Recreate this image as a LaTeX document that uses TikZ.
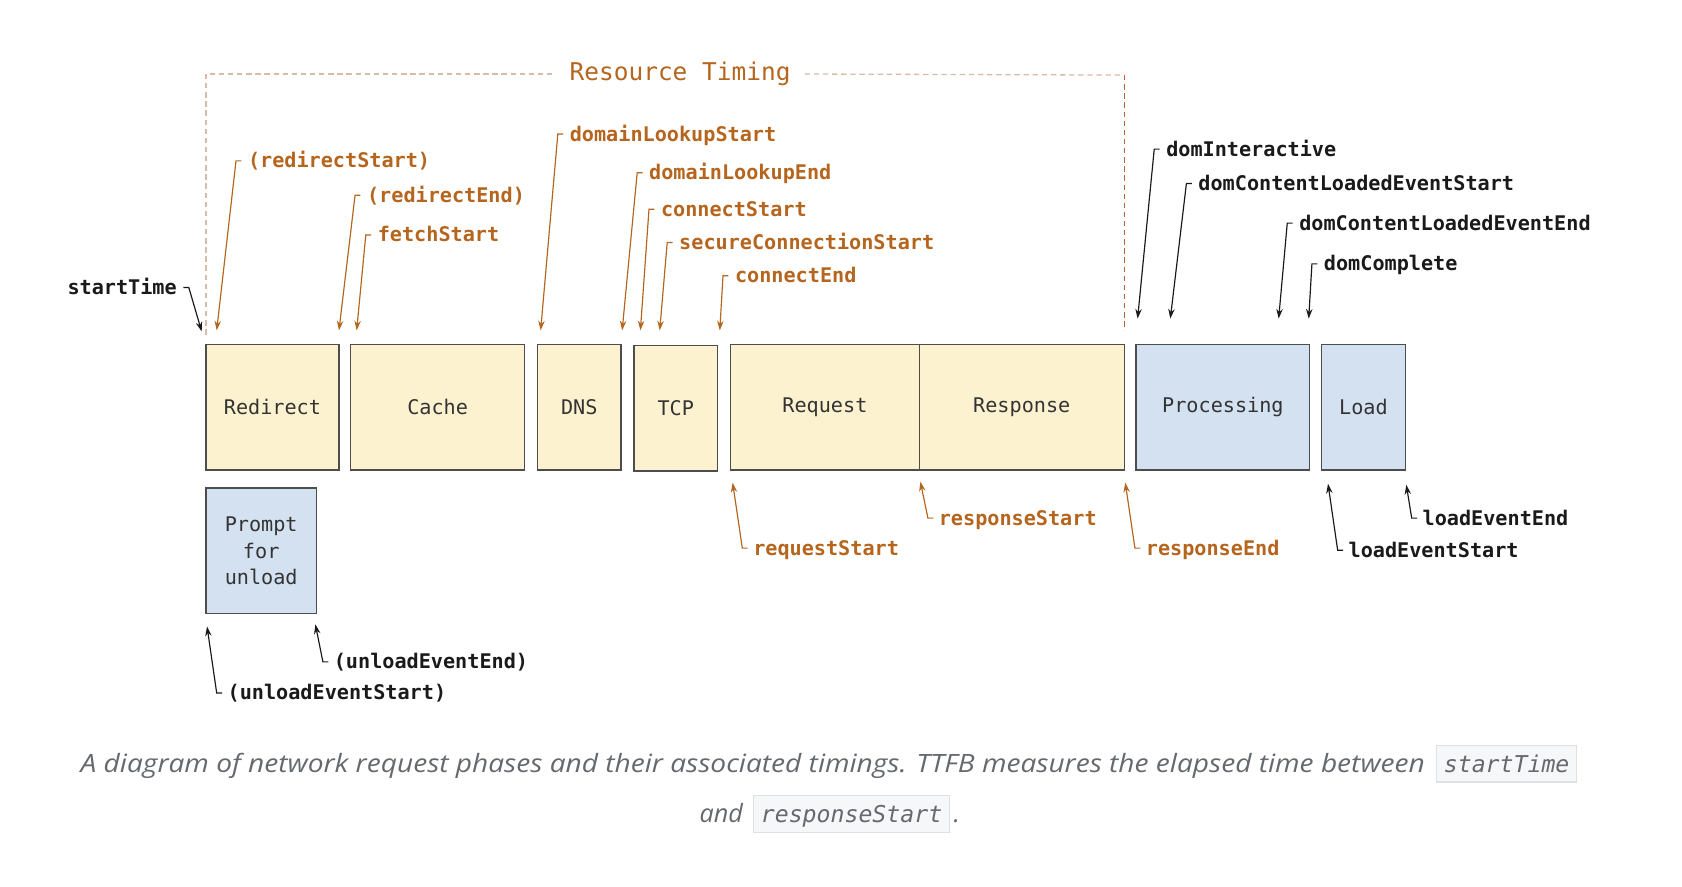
\documentclass[tikz,border=0pt]{standalone}
\usepackage{fontspec}
\setmainfont{Open Sans}
\setmonofont{DejaVu Sans Mono}
\usetikzlibrary{positioning,arrows.meta}
\usepackage{xcolor}

\definecolor{rtorange}{HTML}{B5651D}
\definecolor{labelblack}{HTML}{1A1A1A}
\definecolor{boxline}{HTML}{4D4D4D}
\definecolor{phaseyellow}{HTML}{FDF2D0}
\definecolor{phaseblue}{HTML}{D4E1F1}
\definecolor{dashlight}{HTML}{D9BBA8}
\definecolor{dashdark}{HTML}{B3613F}
\definecolor{capgray}{HTML}{65696E}
\definecolor{codefill}{HTML}{F6F7F8}
\definecolor{codeline}{HTML}{DDE0E4}

\newcommand\lblfont{\fontsize{18.8}{22}\selectfont\ttfamily\bfseries}
\newcommand\boxfont{\fontsize{18.8}{25}\selectfont\ttfamily}

\tikzset{
  phase/.style={draw=boxline, line width=1.3pt, fill=phaseyellow, inner sep=0pt,
    minimum height=117pt, font=\boxfont, text=black!80},
  phaseb/.style={phase, fill=phaseblue},
  lbl/.style={anchor=west, inner sep=0pt, text height=13pt, text depth=0pt, font=\lblfont},
  olbl/.style={lbl, text=rtorange},
  klbl/.style={lbl, text=labelblack},
  olink/.style={->, line width=1.1pt, rtorange},
  klink/.style={->, line width=1.1pt, labelblack},
  capfont/.style={anchor=base west, inner sep=0pt, text=capgray,
    font=\fontsize{23.5}{28}\selectfont\itshape},
  codebox/.style={anchor=base west, fill=codefill, draw=codeline, line width=1pt,
    inner xsep=7pt, inner ysep=8pt, text height=17pt, text depth=1pt, text=capgray,
    font=\fontsize{21.6}{26}\selectfont\ttfamily\itshape}
}

\begin{document}
\begin{tikzpicture}[x=1pt,y=-1pt]
  \useasboundingbox (0,0) rectangle (1568,826);
  \begin{scope}[>={Stealth[length=9pt,width=6pt]}]
    % phases
    \node (redirect) at (254,379.5) [phase, minimum width=124pt]{Redirect};
    \node (cache) at (408,379.5) [phase, minimum width=162pt]{Cache};
    \node (dns) at (540,379.5) [phase, minimum width=78pt]{DNS};
    \node (tcp) at (630,380.5) [phase, minimum width=78pt]{TCP};
    \node (request) at (769,379.5) [phase, minimum width=176pt]{Request};
    \node (response) at (952.5,379.5) [phase, minimum width=191pt]{Response};
    \node (processing) at (1140,379.5) [phaseb, minimum width=162pt]{Processing};
    \node (load) at (1271,379.5) [phaseb, minimum width=78pt]{Load};
    \node (prompt) at (243.5,513.5) [phaseb, minimum width=103pt, align=center]{Prompt\\for\\unload};

    % resource timing bracket
    \node (rt) at (634,69) [inner xsep=13pt, inner ysep=0pt, text=rtorange,
      font=\fontsize{22.8}{26}\selectfont\ttfamily]{Resource Timing};
    \coordinate (rtl) at (192,312);
    \coordinate (rtr) at (1048,70);
    \coordinate (rtrb) at (1048,308);
    \draw[dashlight, line width=1.2pt, dash pattern=on 5pt off 3.5pt] (rtl) |- (rt.west);
    \draw[dashlight, line width=1.2pt, dash pattern=on 5pt off 3.5pt] (rt.east) -- (rtr);
    \draw[dashdark, line width=1.2pt, dash pattern=on 5pt off 3.5pt] (rtr) -- (rtrb);

    % arrow tips
    \coordinate (tst) at (188,309);
    \coordinate (trs) at (202,308);
    \coordinate (tre) at (316,308);
    \coordinate (tfs) at (332.5,308);
    \coordinate (tdls) at (504,308);
    \coordinate (tdle) at (580,308);
    \coordinate (tcs) at (597,308);
    \coordinate (tscs) at (615,308);
    \coordinate (tce) at (671,308);
    \coordinate (tdi) at (1060.5,297);
    \coordinate (tdcls) at (1091,297);
    \coordinate (tdcle) at (1192,297);
    \coordinate (tdc) at (1220,297);
    \coordinate (trqs) at (683,450);
    \coordinate (trps) at (858,449);
    \coordinate (trpe) at (1049,450);
    \coordinate (tles) at (1238,451);
    \coordinate (tlee) at (1311,452);
    \coordinate (tuee) at (294,582);
    \coordinate (tues) at (193,584);

    % labels above
    \node (st) at (165,268) [klbl, anchor=east]{startTime};
    \node (rs) at (231,150) [olbl]{(redirectStart)};
    \node (re) at (342,182) [olbl]{(redirectEnd)};
    \node (fs) at (352,219) [olbl]{fetchStart};
    \node (dls) at (531,125) [olbl]{domainLookupStart};
    \node (dle) at (605,161) [olbl]{domainLookupEnd};
    \node (cs) at (616,195) [olbl]{connectStart};
    \node (scs) at (633,226) [olbl]{secureConnectionStart};
    \node (ce) at (685,257) [olbl]{connectEnd};
    \node (di) at (1087,139) [klbl]{domInteractive};
    \node (dcls) at (1117,171) [klbl]{domContentLoadedEventStart};
    \node (dcle) at (1211,208) [klbl]{domContentLoadedEventEnd};
    \node (dc) at (1234,246) [klbl]{domComplete};

    % labels below
    \node (rqs) at (702,511) [olbl]{requestStart};
    \node (rps) at (875,483) [olbl]{responseStart};
    \node (rpe) at (1068,511) [olbl]{responseEnd};
    \node (les) at (1257,513) [klbl]{loadEventStart};
    \node (lee) at (1326,483) [klbl]{loadEventEnd};
    \node (uee) at (311,617) [klbl]{(unloadEventEnd)};
    \node (ues) at (212,646) [klbl]{(unloadEventStart)};

    \draw[klink] ([xshift=6pt]st.east) -- ++(5,0) -- (tst);
    \draw[olink] ([xshift=-6pt]rs.west) -- ++(-5,0) -- (trs);
    \draw[olink] ([xshift=-6pt]re.west) -- ++(-5,0) -- (tre);
    \draw[olink] ([xshift=-6pt]fs.west) -- ++(-5,0) -- (tfs);
    \draw[olink] ([xshift=-6pt]dls.west) -- ++(-5,0) -- (tdls);
    \draw[olink] ([xshift=-6pt]dle.west) -- ++(-5,0) -- (tdle);
    \draw[olink] ([xshift=-6pt]cs.west) -- ++(-5,0) -- (tcs);
    \draw[olink] ([xshift=-6pt]scs.west) -- ++(-5,0) -- (tscs);
    \draw[olink] ([xshift=-6pt]ce.west) -- ++(-5,0) -- (tce);
    \draw[klink] ([xshift=-6pt]di.west) -- ++(-5,0) -- (tdi);
    \draw[klink] ([xshift=-6pt]dcls.west) -- ++(-5,0) -- (tdcls);
    \draw[klink] ([xshift=-6pt]dcle.west) -- ++(-5,0) -- (tdcle);
    \draw[klink] ([xshift=-6pt]dc.west) -- ++(-5,0) -- (tdc);

    \draw[olink] ([xshift=-5pt]rqs.west) -- ++(-5,0) -- (trqs);
    \draw[olink] ([xshift=-5pt]rps.west) -- ++(-5,0) -- (trps);
    \draw[olink] ([xshift=-5pt]rpe.west) -- ++(-5,0) -- (trpe);
    \draw[klink] ([xshift=-5pt]les.west) -- ++(-5,0) -- (tles);
    \draw[klink] ([xshift=-5pt]lee.west) -- ++(-5,0) -- (tlee);
    \draw[klink] ([xshift=-5pt]uee.west) -- ++(-5,0) -- (tuee);
    \draw[klink] ([xshift=-5pt]ues.west) -- ++(-5,0) -- (tues);
  \end{scope}

  % caption
  \node (capA) at (75,720) [capfont]{\resizebox{1253pt}{\height}{A diagram of network request phases and their associated timings. TTFB measures the elapsed time between}};
  \node (codeA) at ([xshift=10pt]capA.base east) [codebox]{startTime};
  \node (capB) at (652,767) [capfont]{and};
  \node (codeB) at ([xshift=9pt]capB.base east) [codebox]{responseStart};
  \node (capC) at ([xshift=3pt]codeB.base east) [capfont]{.};
\end{tikzpicture}
\end{document}
